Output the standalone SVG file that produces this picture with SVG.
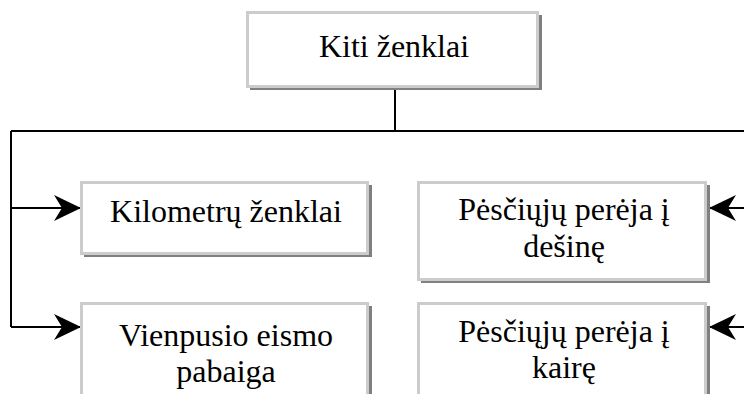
<svg xmlns="http://www.w3.org/2000/svg" width="744" height="394" viewBox="0 0 744 394">
  <style>
    .shadow { fill: #808080; }
    .box { fill: #ffffff; stroke: #cccccc; stroke-width: 3; }
    .label { font-family: "Liberation Serif", "Times New Roman", serif; font-size: 32px; fill: #000000; text-anchor: middle; }
    .wire { fill: none; stroke: #000000; stroke-width: 2; }
  </style>
  <defs>
    <!-- stealth-style arrowhead, tip at the end of the line -->
    <marker id="arrow" viewBox="0 0 28 28" refX="27" refY="14" markerWidth="28" markerHeight="28" markerUnits="userSpaceOnUse" orient="auto">
      <path d="M0,1 L27,14 L0,27 L8,14 Z" fill="#000000"/>
    </marker>
  </defs>

  <rect width="744" height="394" fill="#ffffff"/>

  <!-- connectors -->
  <g id="connectors">
    <path class="wire" d="M395,88 V131"/>
    <path class="wire" d="M11,131 H744"/>
    <path class="wire" d="M11,131 V327"/>
    <path class="wire" d="M11,208 H81" marker-end="url(#arrow)"/>
    <path class="wire" d="M11,327 H81" marker-end="url(#arrow)"/>
    <path class="wire" d="M744,208 H709" marker-end="url(#arrow)"/>
    <path class="wire" d="M744,327 H709" marker-end="url(#arrow)"/>
  </g>

  <!-- root -->
  <g id="kiti-zenklai">
    <rect class="shadow" x="250" y="15" width="292" height="75"/>
    <rect class="box" x="247.5" y="12.5" width="290" height="74"/>
    <text class="label" x="394" y="57">Kiti ženklai</text>
  </g>

  <g id="kilometru-zenklai">
    <rect class="shadow" x="84" y="185" width="288" height="72"/>
    <rect class="box" x="81.5" y="182.5" width="286" height="71"/>
    <text class="label" x="226" y="222">Kilometrų ženklai</text>
  </g>

  <g id="vienpusio-eismo-pabaiga">
    <rect class="shadow" x="84" y="306" width="288" height="100"/>
    <rect class="box" x="81.5" y="303.5" width="286" height="100"/>
    <text class="label" x="226" y="346">Vienpusio eismo</text>
    <text class="label" x="226" y="382">pabaiga</text>
  </g>

  <g id="pesciuju-pereja-i-desine">
    <rect class="shadow" x="421" y="185" width="289" height="98"/>
    <rect class="box" x="418.5" y="182.5" width="287" height="97"/>
    <text class="label" x="564" y="220">Pėsčiųjų perėja į</text>
    <text class="label" x="564" y="257">dešinę</text>
  </g>

  <g id="pesciuju-pereja-i-kaire">
    <rect class="shadow" x="421" y="306" width="289" height="100"/>
    <rect class="box" x="418.5" y="303.5" width="287" height="100"/>
    <text class="label" x="564" y="342">Pėsčiųjų perėja į</text>
    <text class="label" x="564" y="378">kairę</text>
  </g>
</svg>
